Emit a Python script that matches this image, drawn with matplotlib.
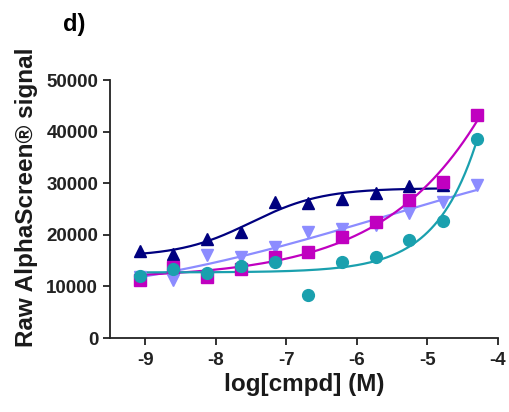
import numpy as np
import matplotlib as mpl
mpl.use('Agg')
import matplotlib.pyplot as plt

plt.rcParams['font.family'] = ['Liberation Sans', 'DejaVu Sans']
plt.rcParams['font.weight'] = 'bold'

# log[cmpd] (M), 3-fold dilution from 50 uM
logc = [-9.07, -8.60, -8.12, -7.64, -7.16, -6.69, -6.21, -5.73, -5.26, -4.78, -4.30]

# raw signal per compound
navy = [16950, 16300, 19150, 20500, 26300, 26250, 26900, 28050, 29550, 29700]
lilac = [11900, 11150, 16100, 15650, 17600, 20450, 21150, 21900, 24300, 26450, 29650]
magenta = [11300, 13850, 11800, 13350, 15650, 16750, 19650, 22550, 26750, 30300, 43200]
teal = [11950, 13350, 12600, 14050, 14650, 8400, 14700, 15650, 19050, 22750, 38500]

series = [
    (lilac, '#8c8cff', 'v', 9),
    (navy, '#00007f', '^', 9),
    (magenta, '#c000c0', 's', 8),
    (teal, '#1aa0ae', 'o', 8.5),
]


def four_pl(x, bottom, top, ec50, hill):
    return bottom + (top - bottom) / (1 + 10 ** ((ec50 - x) * hill))


def fit_4pl(x, y):
    # crude least squares: grid over ec50/hill, bottom/top solved linearly
    x = np.asarray(x)
    y = np.asarray(y)
    best = None
    for c in np.arange(-9.5, -1.0, 0.05):
        for h in np.arange(0.2, 3.0, 0.02):
            f = 1 / (1 + 10 ** ((c - x) * h))
            A = np.column_stack([1 - f, f])
            coef, res, _, _ = np.linalg.lstsq(A, y, rcond=None)
            err = np.sum((A @ coef - y) ** 2)
            if best is None or err < best[0]:
                best = (err, coef[0], coef[1], c, h)
    return best[1:]


fig = plt.figure(figsize=(5.1, 4.12), dpi=100)
ax = fig.add_axes([0.2157, 0.1796, 0.7608, 0.6262])

for vals, col, mk, ms in series:
    xs = logc[:len(vals)]
    b, t, c, h = fit_4pl(xs, vals)
    xx = np.linspace(xs[0], xs[-1], 200)
    ax.plot(xx, four_pl(xx, b, t, c, h), color=col, lw=1.6, zorder=2)
    ax.plot(xs, vals, linestyle='none', marker=mk, ms=ms, color=col, zorder=3)

ax.set_xlim(-9.5, -4)
ax.set_ylim(0, 50000)
ax.set_xticks([-9, -8, -7, -6, -5, -4])
ax.set_xticklabels(['-9', '-8', '-7', '-6', '-5', '-4'])
ax.set_yticks([0, 10000, 20000, 30000, 40000, 50000])
ax.set_yticklabels(['0', '10000', '20000', '30000', '40000', '50000'])

for s in ['top', 'right']:
    ax.spines[s].set_visible(False)
for s in ['left', 'bottom']:
    ax.spines[s].set_linewidth(1.3)
    ax.spines[s].set_color('#222222')
ax.tick_params(direction='out', length=5, width=1.3, colors='#222222',
               labelsize=13.5, pad=3.5)
ax.tick_params(axis='x', pad=5)

ax.set_xlabel('log[cmpd] (M)', fontsize=17.5, fontweight='bold', labelpad=3,
              color='#1a1a1a')
ax.set_ylabel('Raw AlphaScreen\u00ae signal', fontsize=17.5, fontweight='bold',
              color='#1a1a1a')
ax.yaxis.set_label_coords(-0.186, 0.545)

fig.text(0.123, 0.94, 'd)', fontsize=17, fontweight='bold', ha='left', va='center')

fig.savefig('out.png', dpi=100)
